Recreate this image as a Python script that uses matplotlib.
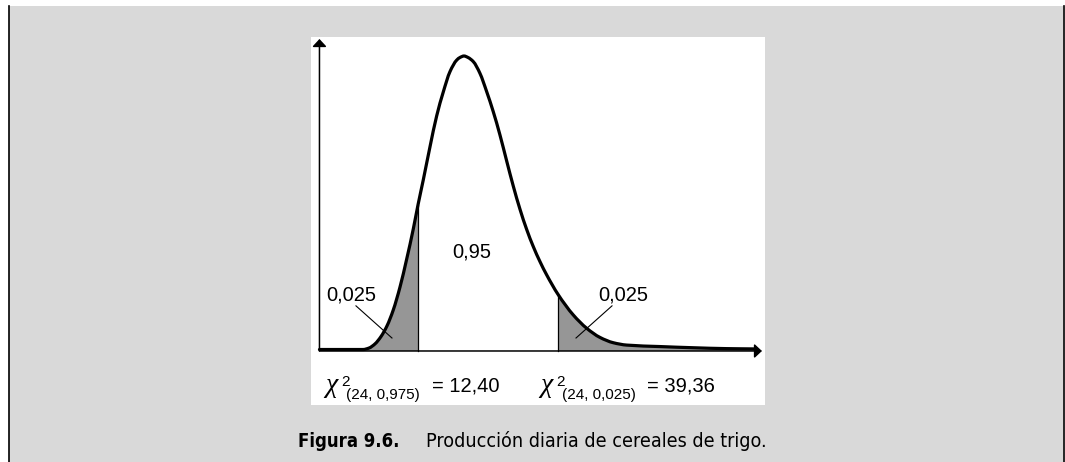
import matplotlib
matplotlib.use("Agg")
import matplotlib.pyplot as plt
from matplotlib import font_manager
from matplotlib.font_manager import FontProperties
from matplotlib.patches import Rectangle, PathPatch
from matplotlib.lines import Line2D
from matplotlib.path import Path
import numpy as np

# ---------------- data ----------------
# x in chi-square units, height relative to the peak
curve_x = [-6.57, 1.81, 2.97, 4.12, 5.28, 6.43, 7.64, 8.94, 10.23, 11.50, 12.40,
           13.42, 14.71, 16.00, 17.27, 18.56, 19.85, 20.49, 21.26, 22.03, 23.05,
           24.34, 25.63, 26.90, 28.19, 29.48, 30.75, 32.05, 33.33, 34.60, 35.89,
           37.18, 39.36, 42.31, 44.89, 47.44, 50.01, 52.59, 59.00, 65.41, 71.85,
           77.30]
curve_h = [0.005, 0.005, 0.010, 0.024, 0.049, 0.085, 0.139, 0.217, 0.312, 0.414, 0.495,
           0.580, 0.692, 0.797, 0.878, 0.947, 0.986, 0.995, 1.000, 0.995, 0.981,
           0.941, 0.879, 0.811, 0.732, 0.644, 0.559, 0.480, 0.412, 0.354, 0.303,
           0.258, 0.192, 0.122, 0.077, 0.046, 0.028, 0.020, 0.015, 0.011, 0.008,
           0.007]
lower_cut = 12.40
upper_cut = 39.36
tail_label = "0,025"
center_label = "0,95"
lower_sub = "(24, 0,975)"
lower_val = "= 12,40"
upper_sub = "(24, 0,025)"
upper_val = "= 39,36"
caption_num = "Figura 9.6."
caption_text = "Producción diaria de cereales de trigo."

# ---------------- figure ----------------
W, H = 1065, 462
fig = plt.figure(figsize=(W / 100, H / 100), dpi=100)
fig.patch.set_facecolor("white")

def fx(px):
    return px / W

def fy(py):
    return 1 - py / H

# gray panel with black side rules
fig.patches.append(Rectangle((fx(9), 0), fx(1063) - fx(9), fy(6), transform=fig.transFigure,
                             facecolor="#d9d9d9", edgecolor="none", zorder=-5))
for xp in (8.5, 1063.5):
    fig.lines.append(Line2D([fx(xp), fx(xp)], [0, fy(6)], transform=fig.transFigure,
                            color="black", lw=1.2, zorder=-4))

# white plot box
ax = fig.add_axes([fx(311), fy(405), fx(765) - fx(311), fy(37) - fy(405)])
ax.set_zorder(1)
ax.set_facecolor("white")
for s in ax.spines.values():
    s.set_visible(False)
ax.set_xticks([])
ax.set_yticks([])
ax.set_xlim(-8.20, 79.22)
ax.set_ylim(-0.1831, 1.0644)

cx = np.array(curve_x)
ch = np.array(curve_h)

# smooth (monotone cubic Bezier) rendering of the read points
d = np.diff(ch) / np.diff(cx)
hs = np.diff(cx)
m = np.zeros_like(ch)
m[0], m[-1] = d[0], d[-1]
for k in range(1, len(ch) - 1):
    if d[k - 1] * d[k] > 0:
        w1 = 2 * hs[k] + hs[k - 1]
        w2 = hs[k] + 2 * hs[k - 1]
        m[k] = (w1 + w2) / (w1 / d[k - 1] + w2 / d[k])

def curve_verts(i0, i1):
    verts = [(cx[i0], ch[i0])]
    codes = [Path.MOVETO]
    for k in range(i0, i1):
        dx = cx[k + 1] - cx[k]
        verts += [(cx[k] + dx / 3, ch[k] + m[k] * dx / 3),
                  (cx[k + 1] - dx / 3, ch[k + 1] - m[k + 1] * dx / 3),
                  (cx[k + 1], ch[k + 1])]
        codes += [Path.CURVE4] * 3
    return verts, codes

n = len(cx)
il = int(np.argmin(np.abs(cx - lower_cut)))
iu = int(np.argmin(np.abs(cx - upper_cut)))

# shaded tails
v, c = curve_verts(0, il)
v += [(cx[il], 0), (cx[0], 0), (cx[0], 0)]
c += [Path.LINETO, Path.LINETO, Path.CLOSEPOLY]
ax.add_patch(PathPatch(Path(v, c), facecolor="#969696", edgecolor="none", zorder=2))
v, c = curve_verts(iu, n - 1)
v += [(cx[-1], 0), (cx[iu], 0), (cx[iu], 0)]
c += [Path.LINETO, Path.LINETO, Path.CLOSEPOLY]
ax.add_patch(PathPatch(Path(v, c), facecolor="#969696", edgecolor="none", zorder=2))

# axes with arrows
x0 = -6.57
arrow = dict(arrowstyle="-|>,head_length=0.45,head_width=0.42",
             mutation_scale=10, lw=1.1, color="black", shrinkA=0, shrinkB=0)
ax.annotate("", xy=(78.64, 0), xytext=(x0, 0), arrowprops=arrow, zorder=3)
ax.annotate("", xy=(x0, 1.0576), xytext=(x0, 0), arrowprops=arrow, zorder=3)

# cut lines
for i in (il, iu):
    ax.plot([cx[i], cx[i]], [0, ch[i]], color="black", lw=0.9, zorder=3)

# density curve
v, c = curve_verts(0, n - 1)
ax.add_patch(PathPatch(Path(v, c), facecolor="none", edgecolor="black", lw=2.3,
                       joinstyle="round", capstyle="round", zorder=4))

# area labels and leader lines
lab_font = dict(family="Liberation Sans", fontsize=14.5, color="black")
ax.text(22.8, 0.336, center_label, ha="center", va="center", **lab_font)
ax.text(-0.40, 0.190, tail_label, ha="center", va="center", **lab_font)
ax.text(51.88, 0.190, tail_label, ha="center", va="center", **lab_font)
ax.plot([0.46, 7.39], [0.153, 0.044], color="black", lw=0.8, zorder=5)
ax.plot([49.76, 42.83], [0.153, 0.044], color="black", lw=0.8, zorder=5)

# quantile labels below the axis (drawn above the white box)
def ftext(px, py, s, **kw):
    return fig.text(fx(px), fy(py), s, ha="left", va="baseline", zorder=10, **kw)

for (xc, sub, val) in ((325, lower_sub, lower_val), (540, upper_sub, upper_val)):
    ftext(xc, 392.5, "\u03c7", family="Liberation Serif", fontsize=20, style="italic")
    ftext(xc + 16, 386.5, "2", family="Liberation Sans", fontsize=11)
    ftext(xc + 21.5, 399.3, sub, family="Liberation Sans", fontsize=11)
    ftext(xc + 107, 392.0, val, family="Liberation Sans", fontsize=14.5)

# caption: prefer a condensed sans face if one is installed
cond_reg, cond_bold = None, None
for f in font_manager.fontManager.ttflist:
    fn = f.fname.lower().split("/")[-1]
    if "sans" not in fn or "mono" in fn or "serif" in fn:
        continue
    if not ("condensed" in fn or "narrow" in fn):
        continue
    if "oblique" in fn or "italic" in fn:
        continue
    if "bold" in fn:
        if cond_bold is None:
            cond_bold = f.fname
    else:
        if cond_reg is None:
            cond_reg = f.fname
reg_kw = dict(fontproperties=FontProperties(fname=cond_reg)) if cond_reg else dict(family="Liberation Sans")
bold_kw = dict(fontproperties=FontProperties(fname=cond_bold)) if cond_bold else dict(family="Liberation Sans", weight="bold")

fig.canvas.draw()
renderer = fig.canvas.get_renderer()

def fit(px, py, s, target_w, kw):
    t = ftext(px, py, s, **kw)
    t.set_fontsize(16)
    w = t.get_window_extent(renderer).width
    t.set_fontsize(16 * target_w / w)
    return t

fit(298, 447.3, caption_num, 102, bold_kw)
fit(426, 447.3, caption_text, 340, reg_kw)

fig.savefig("out.png", dpi=100, facecolor=fig.get_facecolor())
